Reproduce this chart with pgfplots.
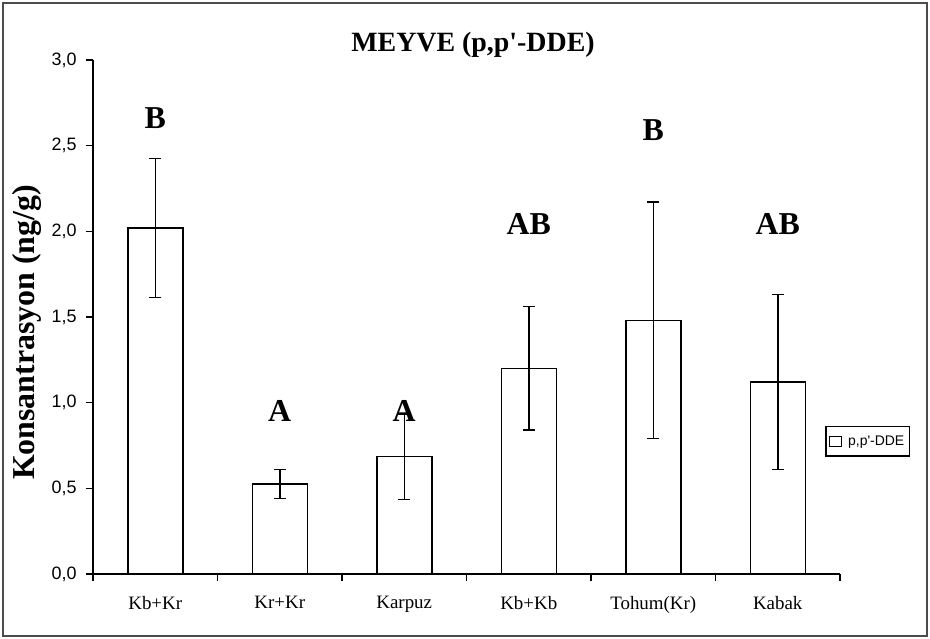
\documentclass[border=0pt]{standalone}
\usepackage{fontspec}
\setmainfont{Liberation Serif}
\setsansfont{Liberation Sans}
\usepackage{pgfplots}
\pgfplotsset{compat=1.18}
\begin{document}
\begin{tikzpicture}
\useasboundingbox (0bp,0bp) rectangle (930bp,639bp);
\draw[line width=2bp, black!70] (3bp,3bp) rectangle (927bp,636bp);
\begin{axis}[
  at={(93bp,65bp)}, anchor=south west,
  scale only axis, width=747bp, height=514bp,
  xmin=-0.5, xmax=5.5, ymin=0, ymax=3,
  axis x line*=bottom, axis y line*=left,
  axis line style={-, line width=1.5bp},
  tick align=outside,
  major tick length=7bp,
  tick style={line width=1.5bp, black},
  xtick={-0.5,0.5,1.5,2.5,3.5,4.5,5.5},
  xticklabels={},
  extra x ticks={0,1,2,3,4,5},
  extra x tick labels={Kb+Kr,Kr+Kr,Karpuz,Kb+Kb,Tohum(Kr),Kabak},
  extra x tick style={major tick length=0pt, tick label style={font=\fontsize{19}{19}\selectfont, anchor=north, yshift=-19bp}},
  ytick={0,0.5,1,1.5,2,2.5,3},
  yticklabel style={font=\sffamily\fontsize{18}{18}\selectfont, xshift=-6bp, /pgf/number format/.cd, fixed, fixed zerofill, precision=1, use comma, assume math mode=true},
  ylabel={\bfseries Konsantrasyon (ng/g)},
  ylabel style={font=\fontsize{32}{32}\selectfont, at={(axis description cs:-0.088,0.47)}, anchor=center},
  ybar, bar width=55bp, bar shift=0pt,
  legend style={at={(axis description cs:0.98,0.288)}, anchor=north west, draw=black, line width=1.5bp, font=\sffamily\fontsize{14}{14}\selectfont, inner xsep=3bp, inner ysep=7bp},
  legend cell align=left,
  legend image code/.code={\draw[black, fill=white, line width=1.2bp] (0bp,-5bp) rectangle (12bp,5bp); \path (16bp,0bp);},
]
\addplot[draw=black, fill=white, line width=1.5bp,
  error bars/.cd, y dir=both, y explicit,
  error bar style={line width=1.5bp, black},
  error mark options={rotate=90, mark size=6bp, line width=1.5bp, black}]
  coordinates {
    (0,2.02) +- (0,0.405)
    (1,0.525) +- (0,0.085)
    (2,0.685) +- (0,0.25)
    (3,1.20) +- (0,0.36)
    (4,1.48) +- (0,0.69)
    (5,1.12) +- (0,0.51)
  };
\addlegendentry{p,p\textquotesingle-DDE}
\begin{scope}[font=\bfseries\fontsize{32}{32}\selectfont]
\node at (axis cs:0,2.66) {B};
\node at (axis cs:1,0.95) {A};
\node at (axis cs:2,0.95) {A};
\node at (axis cs:3,2.04) {AB};
\node at (axis cs:4,2.59) {B};
\node at (axis cs:5,2.04) {AB};
\end{scope}
\end{axis}
\node[font=\bfseries\fontsize{28}{28}\selectfont] at (473bp,594bp) {MEYVE (p,p\textquotesingle-DDE)};
\end{tikzpicture}
\end{document}
